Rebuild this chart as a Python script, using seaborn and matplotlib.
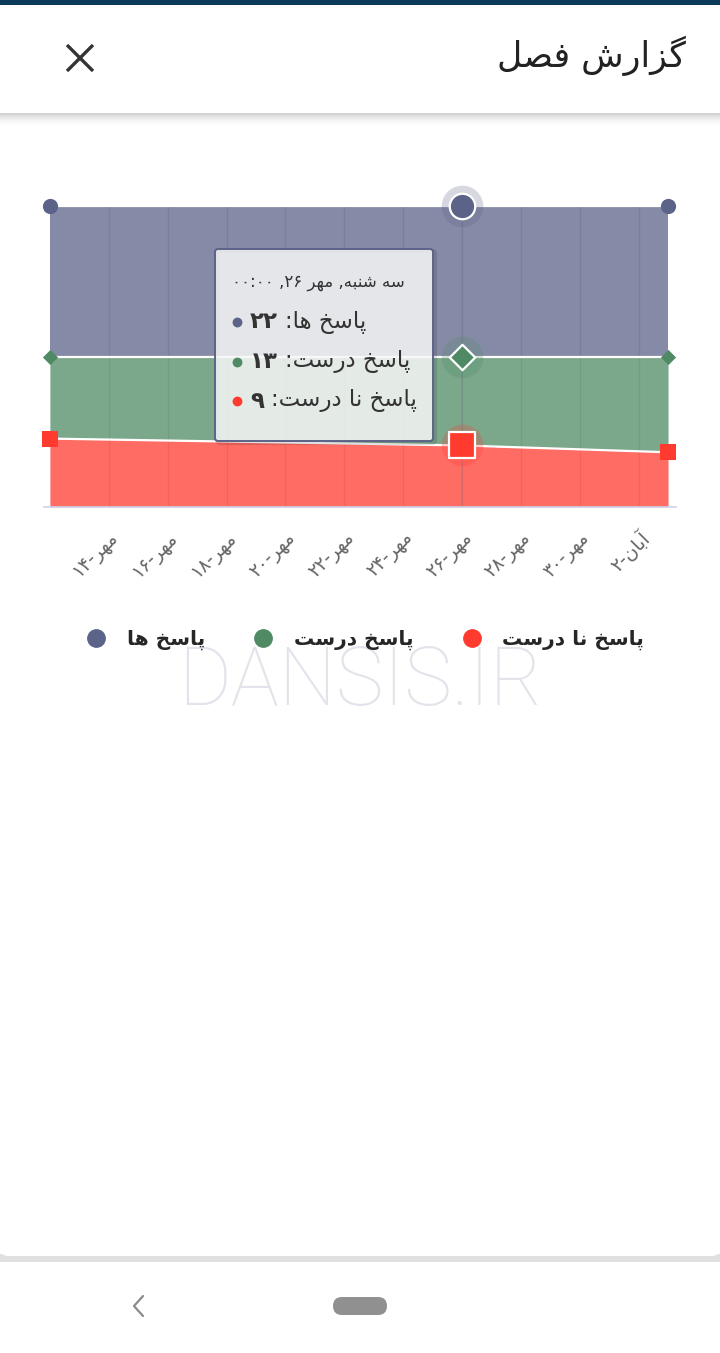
import re
import matplotlib
matplotlib.use("Agg")
import matplotlib.pyplot as plt
from matplotlib.lines import Line2D
from matplotlib.patches import FancyBboxPatch, Rectangle
import pandas as pd
import seaborn as sns

sns.set_style("white")
plt.rcParams["font.family"] = ["DejaVu Sans"]

W, H = 720, 1353

# --- data (روز از مهر) ---
days = [12, 26, 33]
total = [22, 22, 22]        # پاسخ ها
correct = [12, 13, 14]      # پاسخ درست
incorrect = [10, 9, 8]      # پاسخ نا درست
tick_days = [14, 16, 18, 20, 22, 24, 26, 28, 30, 32]
tick_labels = ["مهر-۱۴", "مهر-۱۶", "مهر-۱۸", "مهر-۲۰", "مهر-۲۲",
               "مهر-۲۴", "مهر-۲۶", "مهر-۲۸", "مهر-۳۰", "آبان-۲"]
series_names = ["پاسخ ها", "پاسخ درست", "پاسخ نا درست"]
colors = ["#5c6388", "#4f8a65", "#ff3b30"]
hover_idx = 1
hover_header = "سه شنبه, مهر ۲۶, ۰۰:۰۰"
title = "گزارش فصل"

# isolated, final, initial, medial
FORMS = {
    "ا": ("\uFE8D", "\uFE8E", None, None),
    "آ": ("\uFE81", "\uFE82", None, None),
    "ب": ("\uFE8F", "\uFE90", "\uFE91", "\uFE92"),
    "پ": ("\uFB56", "\uFB57", "\uFB58", "\uFB59"),
    "ت": ("\uFE95", "\uFE96", "\uFE97", "\uFE98"),
    "خ": ("\uFEA5", "\uFEA6", "\uFEA7", "\uFEA8"),
    "د": ("\uFEA9", "\uFEAA", None, None),
    "ر": ("\uFEAD", "\uFEAE", None, None),
    "ز": ("\uFEAF", "\uFEB0", None, None),
    "س": ("\uFEB1", "\uFEB2", "\uFEB3", "\uFEB4"),
    "ش": ("\uFEB5", "\uFEB6", "\uFEB7", "\uFEB8"),
    "ص": ("\uFEB9", "\uFEBA", "\uFEBB", "\uFEBC"),
    "ف": ("\uFED1", "\uFED2", "\uFED3", "\uFED4"),
    "گ": ("\uFB92", "\uFB93", "\uFB94", "\uFB95"),
    "ل": ("\uFEDD", "\uFEDE", "\uFEDF", "\uFEE0"),
    "م": ("\uFEE1", "\uFEE2", "\uFEE3", "\uFEE4"),
    "ن": ("\uFEE5", "\uFEE6", "\uFEE7", "\uFEE8"),
    "ه": ("\uFEE9", "\uFEEA", "\uFEEB", "\uFEEC"),
}


def shape(text):
    out = []
    for i, ch in enumerate(text):
        f = FORMS.get(ch)
        if f is None:
            out.append(ch)
            continue
        prev = text[i - 1] if i > 0 else ""
        nxt = text[i + 1] if i + 1 < len(text) else ""
        jp = prev in FORMS and FORMS[prev][2] is not None
        jn = f[2] is not None and nxt in FORMS
        out.append(f[3] if jp and jn else f[1] if jp else f[2] if jn else f[0])
    return "".join(out)


def rtl(text):
    s = shape(text)[::-1]
    return re.sub(r"[۰-۹0-9:]*[۰-۹0-9]", lambda m: m.group(0)[::-1], s)


def fa(n):
    return str(n).translate(str.maketrans("0123456789", "۰۱۲۳۴۵۶۷۸۹"))


df = pd.DataFrame({"day": days, "incorrect": incorrect, "correct": correct, "total": total})
df["top_red"] = df["incorrect"]
df["top_green"] = df["incorrect"] + df["correct"]
df["top_blue"] = df["top_green"] + df["total"]

fig = plt.figure(figsize=(W / 100, H / 100), dpi=100)


def px_axes(z):
    a = fig.add_axes([0, 0, 1, 1], zorder=z)
    a.set_xlim(0, W)
    a.set_ylim(H, 0)
    a.axis("off")
    a.patch.set_alpha(0)
    return a


# --- page chrome ---
bg = px_axes(0)
bg.add_patch(Rectangle((0, 1254), W, 8, color="#e0e0e0", lw=0))
bg.add_patch(FancyBboxPatch((0, 100), W, 1156, boxstyle="round,pad=0,rounding_size=8",
                            fc="white", ec="none"))
for k in range(14):
    bg.add_patch(Rectangle((0, 113 + k), W, 1, color="#000000", alpha=0.18 * (1 - k / 14) ** 2, lw=0))
bg.add_patch(Rectangle((0, 5), W, 108, color="white", lw=0))
bg.add_patch(Rectangle((0, 0), W, 5, color="#0b3a58", lw=0))
bg.text(686, 56, rtl(title), ha="right", va="center", fontsize=25, color="#222222")
bg.plot([67, 93], [45, 71], color="#333333", lw=2.4, solid_capstyle="butt")
bg.plot([67, 93], [71, 45], color="#333333", lw=2.4, solid_capstyle="butt")
bg.plot([143, 134, 143], [1296, 1306, 1316], color="#8a8a8a", lw=1.6)
bg.add_patch(FancyBboxPatch((333, 1297), 54, 18, boxstyle="round,pad=0,rounding_size=9",
                            fc="#909090", ec="none"))
bg.text(360, 683, "DANSIS.IR", ha="center", va="center", fontsize=58,
        family="Roboto", fontweight="light", color="#e3e3eb")

# --- chart ---
ax = fig.add_axes([44 / W, 1 - 507 / H, 632 / W, 301 / H], zorder=1)
ax.patch.set_alpha(0)
ax.set_xlim(df["day"].iloc[0] - 0.2, df["day"].iloc[-1] + 0.27)
ax.set_ylim(0, df["top_blue"].max())
ax.set_axisbelow(True)
ax.set_xticks(tick_days)
ax.set_xticklabels([rtl(t) for t in tick_labels], rotation=45, ha="right",
                   rotation_mode="anchor", fontsize=13.5, color="#666666")
ax.tick_params(axis="x", length=0, pad=15)
ax.set_yticks([])
ax.grid(axis="x", color="#d6d6d6", lw=1)
for s in ["left", "right", "top"]:
    ax.spines[s].set_visible(False)
ax.spines["bottom"].set_color("#ccd6eb")
ax.spines["bottom"].set_linewidth(1.2)

ax.fill_between(df["day"], df["top_green"], df["top_blue"], color=colors[0], alpha=0.75, lw=0)
ax.fill_between(df["day"], df["top_red"], df["top_green"], color=colors[1], alpha=0.75, lw=0)
ax.fill_between(df["day"], 0, df["top_red"], color=colors[2], alpha=0.75, lw=0)
for col in ["top_red", "top_green", "top_blue"]:
    sns.lineplot(data=df, x="day", y=col, ax=ax, color="white", lw=1.6, clip_on=False)
ax.axvline(df["day"].iloc[hover_idx], color="#7d7f90", alpha=0.35, lw=1.2)

markers = ["o", "D", "s"]
tops = ["top_blue", "top_green", "top_red"]
sizes = [120, 60, 120]
edge = df.drop(index=hover_idx)
hov = df.iloc[[hover_idx]]
for c, m, col, sz in zip(colors, markers, tops, sizes):
    sns.scatterplot(data=edge, x="day", y=col, ax=ax, color=c, marker=m, s=sz,
                    linewidth=0, clip_on=False, zorder=5)
    sns.scatterplot(data=hov, x="day", y=col, ax=ax, color=c, marker="o", s=900,
                    alpha=0.25, linewidth=0, clip_on=False, zorder=5)
    sns.scatterplot(data=hov, x="day", y=col, ax=ax, color=c, marker=m,
                    s=sz * 2.8, edgecolor="white", linewidth=1.6, clip_on=False, zorder=6)
ax.set_xlabel("")
ax.set_ylabel("")

# --- tooltip ---
ov = px_axes(3)
ov.add_patch(FancyBboxPatch((217, 251), 218, 192, boxstyle="round,pad=0,rounding_size=3",
                            fc="none", ec="#000000", alpha=0.12, lw=3))
ov.add_patch(FancyBboxPatch((215, 249), 218, 192, boxstyle="round,pad=0,rounding_size=3",
                            fc=(247 / 255, 247 / 255, 247 / 255, 0.85), ec=colors[0], lw=1.4))
ov.text(232, 282, rtl(hover_header), ha="left", va="center", fontsize=12, color="#333333")
renderer = fig.canvas.get_renderer()
row_vals = [df["total"].iloc[hover_idx], df["correct"].iloc[hover_idx], df["incorrect"].iloc[hover_idx]]
for i, (name, v, c) in enumerate(zip(series_names, row_vals, colors)):
    y = 322 + i * 39.5
    ov.scatter([237], [y], s=50, color=c, linewidth=0)
    vt = ov.text(250, y, fa(v), ha="left", va="center", fontsize=16.5,
                 fontweight="bold", color="#333333")
    x1 = vt.get_window_extent(renderer).x1
    ov.text(x1 + 7, y, rtl(name + ":"), ha="left", va="center", fontsize=16.5, color="#333333")

# --- legend ---
handles = [Line2D([], [], marker="o", linestyle="", color=c, markersize=12.5) for c in colors]
fig.legend(handles, [rtl(n) for n in series_names], loc="center",
           bbox_to_anchor=(0.5, 1 - 640 / H), ncol=3, frameon=False,
           prop={"weight": "bold", "size": 14.5}, handletextpad=0.5, columnspacing=1.9)

fig.savefig("out.png", dpi=100)
